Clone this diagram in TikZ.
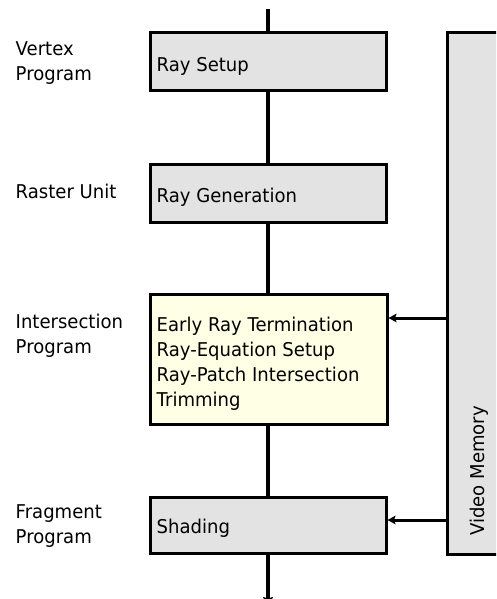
\documentclass[tikz,border=0pt]{standalone}
\usepackage{fontspec}
\setmainfont{DejaVu Sans}[FakeStretch=0.95]
\usetikzlibrary{arrows.meta}
\definecolor{boxgray}{HTML}{E3E3E3}
\definecolor{boxyellow}{HTML}{FFFFE6}

\begin{document}
\begin{tikzpicture}[x=1pt,y=-1pt,
  stagebox/.style={draw=black, line width=3pt, fill=boxgray, inner sep=0pt,
                   minimum width=236pt},
  txt/.style={anchor=base west, inner sep=0pt, font=\fontsize{19}{25}\selectfont},
  flow/.style={line width=4pt},
  feed/.style={line width=3pt, -{Stealth[length=8pt,width=8.5pt,inset=1.5pt]}}]
  \useasboundingbox (0,0) rectangle (496,599);
  \clip (0,0) rectangle (496,599);

  % pipeline stages
  \node[stagebox, minimum height=58pt] (setup) at (268,62) {};
  \node[stagebox, minimum height=58pt] (gen) at (268,193) {};
  \node[stagebox, fill=boxyellow, minimum width=237pt, minimum height=130pt] (isect) at (268.5,359) {};
  \node[stagebox, minimum height=56pt] (shade) at (268,525) {};

  % video memory block, running off the right edge
  \node[stagebox, minimum width=84pt, minimum height=521pt] (vm) at (489,293.5) {};

  % stage contents
  \node[txt] (tsetup) at (156.5,71.7) {Ray Setup};
  \node[txt] (tgen) at (156.5,202) {Ray Generation};
  \node[txt] (tisect) at (156.5,331.5) {\begin{tabular}[t]{@{}l@{}}Early Ray Termination\\Ray-Equation Setup\\Ray-Patch Intersection\\Trimming\end{tabular}};
  \node[txt] (tshade) at (156.5,533) {Shading};
  \node[txt, rotate=90] (tvm) at (484,536) {Video Memory};

  % program labels
  \node[txt] (lvertex) at (15.5,56) {\begin{tabular}[t]{@{}l@{}}Vertex\\Program\end{tabular}};
  \node[txt] (lraster) at (15.5,198) {Raster Unit};
  \node[txt] (lisect) at (15.5,328) {\begin{tabular}[t]{@{}l@{}}Intersection\\Program\end{tabular}};
  \node[txt] (lfrag) at (15.5,518) {\begin{tabular}[t]{@{}l@{}}Fragment\\Program\end{tabular}};

  % main data flow
  \coordinate (topend) at (268,9);
  \coordinate (botend) at (268,606);
  \draw[flow] (topend) -- (setup.north);
  \draw[flow] (setup.south) -- (gen.north);
  \draw[flow] (gen.south) -- (isect.north -| gen.south);
  \draw[flow] (isect.south -| shade.north) -- (shade.north);
  \draw[flow, -{Stealth[length=9pt,width=10pt,inset=1.5pt]}] (shade.south) -- (botend);

  % memory reads
  \coordinate (row1) at (0,318);
  \coordinate (row2) at (0,520);
  \draw[feed] (vm.west |- row1) -- (isect.east |- row1);
  \draw[feed] (vm.west |- row2) -- (shade.east |- row2);
\end{tikzpicture}
\end{document}
